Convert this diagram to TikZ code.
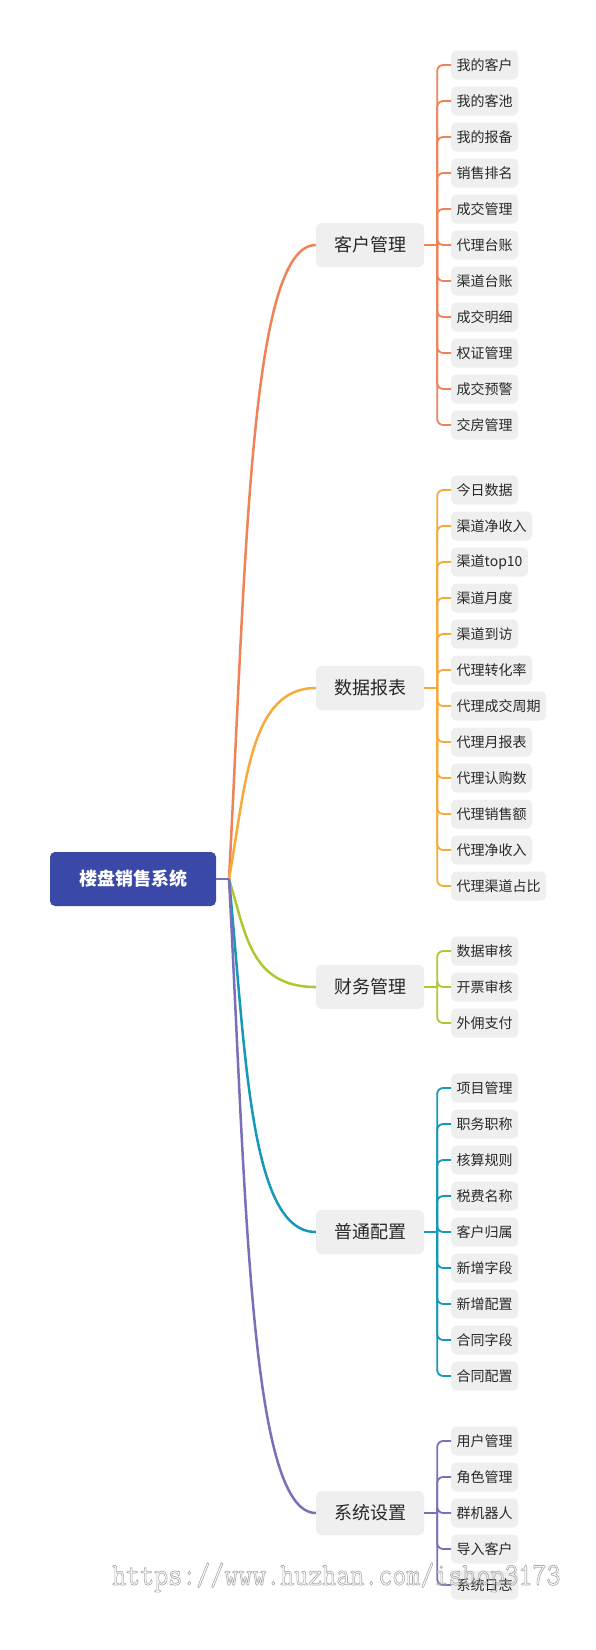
\documentclass[tikz,border=0pt]{standalone}
\usepackage{fontspec}
\usepackage{graphicx}
\setmainfont{Noto Sans CJK SC}
\usetikzlibrary{calc}
\definecolor{cA}{RGB}{240,130,88}
\definecolor{cB}{RGB}{247,170,58}
\definecolor{cC}{RGB}{174,200,50}
\definecolor{cD}{RGB}{22,152,184}
\definecolor{cE}{RGB}{122,112,186}
\definecolor{rootblue}{RGB}{58,73,168}
\definecolor{boxgray}{RGB}{239,239,239}
\definecolor{txt}{RGB}{40,40,40}
\definecolor{wm}{RGB}{170,170,170}
\begin{document}
\begin{tikzpicture}[x=1pt,y=-1pt,
 rootbox/.style={fill=rootblue, rounded corners=5pt, minimum width=166pt, minimum height=54pt, text=white, font=\fontsize{18}{20}\selectfont\bfseries, inner sep=0pt},
 topicbox/.style={fill=boxgray, rounded corners=6pt, minimum width=108pt, minimum height=44pt, text=txt, font=\fontsize{18}{20}\selectfont, inner sep=0pt},
 leafbox/.style={fill=boxgray, rounded corners=5pt, minimum height=29pt, inner xsep=5.5pt, inner ysep=0pt, text=txt, font=\fontsize{14}{16}\selectfont, anchor=west},
 trunk/.style={line width=2.5pt},
 twig/.style={line width=1.8pt, rounded corners=6pt},
]
\useasboundingbox (0,0) rectangle (596,1650);
\fill[white] (0,0) rectangle (596,1650);

\node[rootbox] (root) at (133,879) {楼盘销售系统};
\coordinate (J) at (229,879);

\node[topicbox] (t1) at (370,245) {客户管理};
\node[topicbox] (t2) at (370,688) {数据报表};
\node[topicbox] (t3) at (370,987) {财务管理};
\node[topicbox] (t4) at (370,1232) {普通配置};
\node[topicbox] (t5) at (370,1513) {系统设置};

\draw[trunk,cA] (J) .. controls ($(J)!0.5!(t1.west)+(-26.5,0)$) and ($(t1.west)+(-66,0)$) .. (t1.west);
\draw[trunk,cB] (J) .. controls ($(J)!0.5!(t2.west)+(-26.5,0)$) and ($(t2.west)+(-66,0)$) .. (t2.west);
\draw[trunk,cC] (J) .. controls ($(J)!0.5!(t3.west)+(-26.5,0)$) and ($(t3.west)+(-66,0)$) .. (t3.west);
\draw[trunk,cD] (J) .. controls ($(J)!0.5!(t4.west)+(-26.5,0)$) and ($(t4.west)+(-66,0)$) .. (t4.west);
\draw[trunk,cE] (J) .. controls ($(J)!0.5!(t5.west)+(-26.5,0)$) and ($(t5.west)+(-66,0)$) .. (t5.west);
\draw[trunk,cE] (root.east) -- (J);

\coordinate (b1) at ($(t1.east)+(13,0)$);
\coordinate (b2) at ($(t2.east)+(13,0)$);
\coordinate (b3) at ($(t3.east)+(13,0)$);
\coordinate (b4) at ($(t4.east)+(13,0)$);
\coordinate (b5) at ($(t5.east)+(13,0)$);
\draw[twig,cA] (t1.east) -- (b1);
\draw[twig,cB] (t2.east) -- (b2);
\draw[twig,cC] (t3.east) -- (b3);
\draw[twig,cD] (t4.east) -- (b4);
\draw[twig,cE] (t5.east) -- (b5);

\foreach \t [count=\i from 0] in {我的客户,我的客池,我的报备,销售排名,成交管理,代理台账,渠道台账,成交明细,权证管理,成交预警,交房管理}{
  \node[leafbox] (la\i) at (451,65+36*\i) {\t};
  \draw[twig,cA] (b1) |- (la\i.west);
}
\foreach \t [count=\i from 0] in {今日数据,渠道净收入,渠道top10,渠道月度,渠道到访,代理转化率,代理成交周期,代理月报表,代理认购数,代理销售额,代理净收入,代理渠道占比}{
  \node[leafbox] (lb\i) at (451,490+36*\i) {\t};
  \draw[twig,cB] (b2) |- (lb\i.west);
}
\foreach \t [count=\i from 0] in {数据审核,开票审核,外佣支付}{
  \node[leafbox] (lc\i) at (451,951+36*\i) {\t};
  \draw[twig,cC] (b3) |- (lc\i.west);
}
\foreach \t [count=\i from 0] in {项目管理,职务职称,核算规则,税费名称,客户归属,新增字段,新增配置,合同字段,合同配置}{
  \node[leafbox] (ld\i) at (451,1088+36*\i) {\t};
  \draw[twig,cD] (b4) |- (ld\i.west);
}
\foreach \t [count=\i from 0] in {用户管理,角色管理,群机器人,导入客户,系统日志}{
  \node[leafbox] (le\i) at (451,1441+36*\i) {\t};
  \draw[twig,cE] (b5) |- (le\i.west);
}

\node[anchor=base west, inner sep=0pt, text=wm, font=\ttfamily\fontsize{32}{32}\selectfont] (wmk) at (112,1585) {\special{pdf:literal direct 1 Tr 0.7 w}\scalebox{0.85}[1]{https://www.huzhan.com/ishop3173}\special{pdf:literal direct 0 Tr}};
\end{tikzpicture}
\end{document}
